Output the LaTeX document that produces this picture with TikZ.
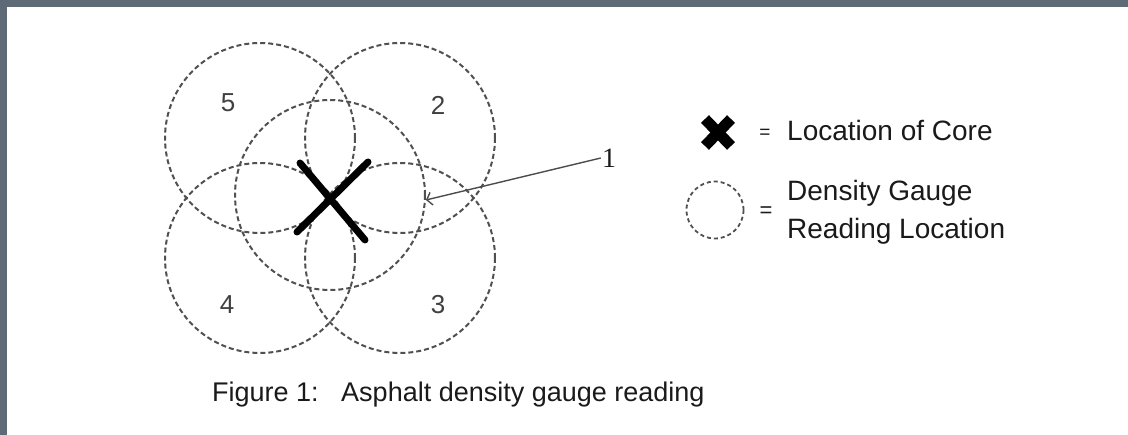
\documentclass[tikz,border=0pt]{standalone}
\usepackage{fontspec}
\setmainfont{Liberation Sans}
\newfontfamily\serifnum{Liberation Serif}
\usetikzlibrary{arrows.meta}
\definecolor{aframe}{HTML}{5E6A75}
\definecolor{adash}{HTML}{505050}
\definecolor{atext}{HTML}{1A1A1A}
\tikzset{
  >={Straight Barb[length=5pt, width=13pt, line width=1.4pt]},
  agauge/.style={circle, draw=adash, line width=2pt, dash pattern=on 5pt off 3pt,
                 minimum size=190pt, inner sep=0pt},
  acore/.style={black, line width=7pt, line cap=round},
  alegx/.style={black, line width=11pt},
  anum/.style={text=black!75, font=\fontsize{26}{30}\selectfont, inner sep=1pt},
  alegend/.style={text=atext, font=\fontsize{28}{32}\selectfont, anchor=base west, inner sep=0pt},
  aeq/.style={text=atext, font=\fontsize{19}{22}\selectfont, inner sep=0pt},
  aleader/.style={->, draw=black!70, line width=1.4pt},
}
\begin{document}
\begin{tikzpicture}[x=1pt,y=-1pt]

  \useasboundingbox (0,0) rectangle (1128,435);

  % frame
  \fill[aframe] (0,0) rectangle (1128,7);
  \fill[aframe] (0,0) rectangle (7,435);

  % reading locations
  \node[agauge] (c1) at (330,195) {};
  \node[agauge] (c2) at (400,138) {};
  \node[agauge] (c3) at (400,258) {};
  \node[agauge] (c4) at (260,258) {};
  \node[agauge] (c5) at (260,138) {};

  \node[anum] (l5) at (228,103) {5};
  \node[anum] (l2) at (438,105) {2};
  \node[anum] (l4) at (227,305) {4};
  \node[anum] (l3) at (438,305) {3};

  % core
  \draw[acore] (300,163) -- (365,240);
  \draw[acore] (297,232) -- (368,162);

  % leader to 1
  \node[anum, text=atext, font=\serifnum\fontsize{28}{30}\selectfont] (l1) at (609,158) {1};
  \draw[aleader] (l1.west) -- (c1.-3);

  % legend
  \draw[alegx] (705,119) -- (731,146);
  \draw[alegx] (705,146) -- (731,119);
  \node[aeq] (eq1) at (765,134) {=};
  \node[alegend] (lcore) at (787,141) {Location of Core};

  \node[agauge, minimum size=57pt, line width=1.8pt, dash pattern=on 4pt off 3pt] (lring) at (715,210) {};
  \node[aeq, font=\fontsize{22}{24}\selectfont] (eq2) at (766,212) {=};
  \node[alegend] (ldens) at (787,201) {Density Gauge};
  \node[alegend] (lread) at (787,239) {Reading Location};

  % caption
  \node[alegend, font=\fontsize{27}{30}\selectfont] (cap) at (212,402) {Figure 1:\ \ \ Asphalt density gauge reading};

\end{tikzpicture}
\end{document}
